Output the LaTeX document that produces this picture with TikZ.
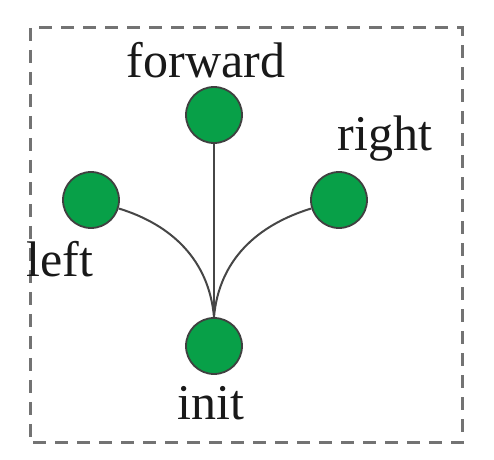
\documentclass[tikz,border=0pt]{standalone}
\usepackage{fontspec}
\setmainfont{Liberation Serif}
\definecolor{nodegreen}{RGB}{8,160,72}
\definecolor{edgegray}{RGB}{70,70,70}
\definecolor{boxgray}{RGB}{115,115,115}
\begin{document}
\begin{tikzpicture}[x=0.5pt,y=-0.5pt,
  state/.style={circle,fill=nodegreen,draw=black!75,line width=0.9pt,minimum size=28pt,inner sep=0pt},
  lbl/.style={font=\fontsize{25}{27}\selectfont,inner sep=0pt,text=black!90},
  conn/.style={draw=edgegray,line width=1pt}]
\useasboundingbox (0,0) rectangle (494,460);
\draw[boxgray,line width=1.5pt,dash pattern=on 6.5pt off 4.5pt] (30,28) rectangle (462,443);
\node[state] (forward) at (214,115) {};
\node[state] (left) at (91,200) {};
\node[state] (right) at (339,200) {};
\node[state] (init) at (214,346) {};
\node[lbl] (lforward) at (206,60) {forward};
\node[lbl] (lright) at (385,139) {right};
\node[lbl] (lleft) at (60,259) {left};
\node[lbl] (linit) at (211,403) {init};
\draw[conn] (forward) -- (init);
\draw[conn] (left.-17) to[out=-17,in=95] (init.north);
\draw[conn] (right.197) to[out=197,in=85] (init.north);
\end{tikzpicture}
\end{document}
